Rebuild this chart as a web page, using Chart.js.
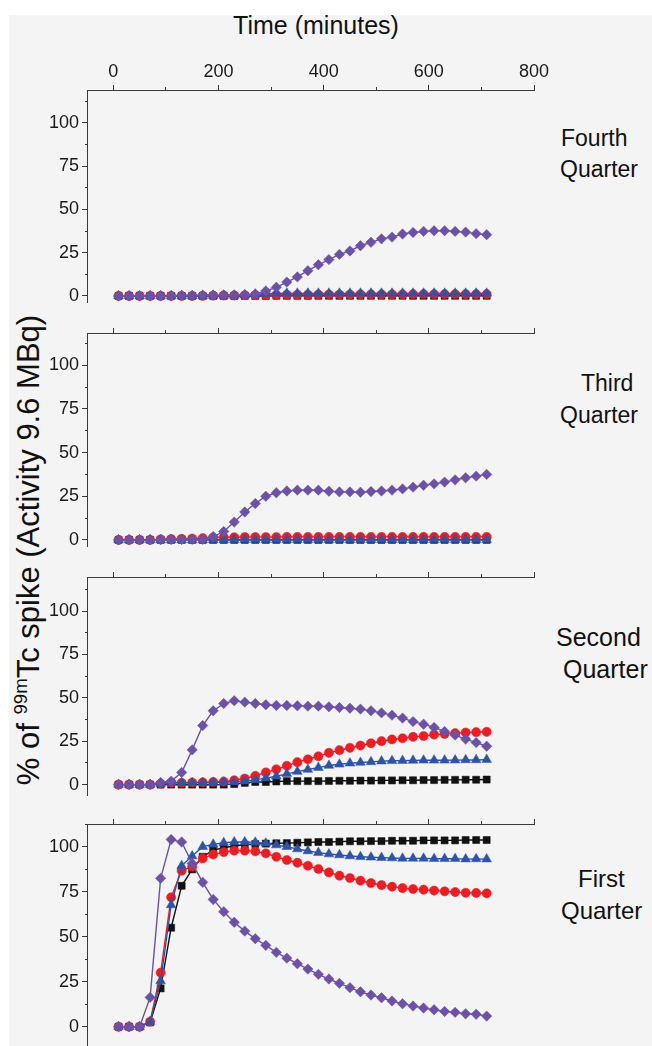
<!DOCTYPE html>
<html><head><meta charset="utf-8">
<script src="https://cdn.jsdelivr.net/npm/chart.js@4.4.1/dist/chart.umd.min.js"></script>
<style>
html,body{margin:0;padding:0;background:#fff;width:652px;height:1046px;overflow:hidden;position:relative;}
#bg{position:absolute;left:9px;top:15px;width:643px;height:1031px;background:#f4f4f4;}
canvas{position:absolute;left:0;}
.t{position:absolute;font-family:"Liberation Sans",Arial,sans-serif;color:#111;white-space:nowrap;line-height:1;}
.pl{font-size:23px;}
#ylab{font-size:31px;left:28px;top:550px;transform:translate(-50%,-50%) rotate(-90deg);}
#ylab sup{font-size:0.6em;vertical-align:baseline;position:relative;top:-0.62em;}
</style></head><body>
<div id="bg"></div>
<div class="t" id="title" style="font-size:25px;left:316px;top:13px;transform:translateX(-50%);">Time (minutes)</div>
<div class="t" id="ylab">% of <sup>99m</sup>Tc spike (Activity 9.6 MBq)</div>
<div class="t pl" style="left:561px;top:127px;">Fourth</div>
<div class="t pl" style="left:560px;top:158px;">Quarter</div>
<div class="t pl" style="left:581px;top:372px;">Third</div>
<div class="t pl" style="left:560px;top:404px;">Quarter</div>
<div class="t pl" style="left:556px;top:625px;font-size:25px;">Second</div>
<div class="t pl" style="left:563px;top:657px;font-size:25px;">Quarter</div>
<div class="t pl" style="left:578px;top:867px;font-size:24px;">First</div>
<div class="t pl" style="left:561px;top:899px;font-size:24px;">Quarter</div>
<canvas id="c1"></canvas><canvas id="c2"></canvas><canvas id="c3"></canvas><canvas id="c4"></canvas>
<script>
// ---- data ----
const time = [10,30,50,70,90,110,130,150,170,190,210,230,250,270,290,310,330,350,370,390,410,430,450,470,490,510,530,550,570,590,610,630,650,670,690,710];
const xTickLabels = ['0','200','400','600','800'];
const yTickLabels = ['0','25','50','75','100'];
const panelNames = ['Fourth Quarter','Third Quarter','Second Quarter','First Quarter'];

// Fourth Quarter (top panel)
const q4Diamond  = [0,0,0,0,0,0,0.3,0.3,0.5,0.5,0.5,0.5,0.7,1,2.9,5,8,11,14.6,18,21,24,26,29,31,33,34,35.8,36.7,37.3,37.7,37.7,37.3,36.9,36,35.4];
const q4Triangle = [0,0,0,0,0,0,0,0,0,0.2,0.3,0.3,0.5,1,1.3,1.4,1.5,1.5,1.5,1.5,1.5,1.5,1.5,1.5,1.5,1.5,1.5,1.5,1.5,1.5,1.5,1.5,1.5,1.5,1.5,1.5];
const q4Circle   = [0,0,0,0,0,0,0,0,0,0.2,0.3,0.3,0.4,0.5,0.6,0.6,0.7,0.7,0.7,0.8,0.8,0.8,0.8,0.9,0.9,0.9,0.9,0.9,1,1,1,1,1,1,1,1];
const q4Square   = [0,0,0,0,0,0,0,0,0,0,0,0,0,0,0,0.1,0.1,0.1,0.1,0.1,0.1,0.1,0.1,0.1,0.1,0.1,0.1,0.1,0.1,0.1,0.1,0.1,0.1,0.1,0.1,0.1];
// Third Quarter
const q3Diamond  = [0,0,0,0,0.2,0.2,0.2,0.3,0.3,1.9,4.8,10.2,16,20.8,25,27,28,28.5,28.5,28.5,27.9,27.5,27.5,27.3,27.7,28,28.5,29.2,30.2,31.3,32.1,33.1,34.4,35.6,36.5,37.5];
const q3Triangle = [0,0,0,0,0,0,0,0,0,0,0,0.1,0.1,0.1,0.1,0.1,0.1,0.1,0.1,0.1,0.1,0.1,0.1,0.1,0.1,0.1,0.1,0.1,0.1,0.1,0.1,0.1,0.1,0.1,0.1,0.1];
const q3Circle   = [0,0,0,0,0.3,0.5,0.6,0.8,1,1.3,1.5,1.5,1.6,1.6,1.6,1.6,1.7,1.7,1.7,1.7,1.7,1.7,1.7,1.7,1.7,1.7,1.7,1.7,1.7,1.7,1.7,1.7,1.7,1.7,1.7,1.7];
const q3Square   = [0,0,0,0,0,0,0,0,0,0,0,0,0,0,0,0,0,0,0,0,0,0,0,0,0,0,0,0,0,0,0,0,0,0,0,0];
// Second Quarter
const q2Diamond  = [0,0,0,0,1.2,2,7,20,34,42.5,46.7,48.3,47.5,46.7,46,45.6,45.6,45.4,45.2,45.2,44.8,44.4,44,43.5,42.5,41.3,40,38.3,36.3,34.8,32.9,30.6,28.5,26.2,24.2,22.1];
const q2Triangle = [0,0,0,0,0.5,1.2,1,1,1,1.2,1.5,1.5,2,2.7,3.7,4.8,6.2,7.5,8.7,9.8,11,11.7,12.3,12.7,13.1,13.5,13.7,13.8,13.9,14,14,14,14.1,14.2,14.2,14.4];
const q2Circle   = [0,0,0,0,0.5,1,1,1.2,1.3,1.5,1.7,2.5,3.5,5,7,8.8,10.8,12.9,14.6,16.3,18.3,19.8,21.2,22.5,23.8,25,26,26.7,27.5,28,28.8,29.2,29.6,30,30.2,30.4];
const q2Square   = [0,0,0,0,0,0,0,0,0,0,0,0.3,1,1.5,1.5,1.8,2,2,2,2,2.1,2.2,2.2,2.3,2.3,2.4,2.4,2.5,2.5,2.6,2.6,2.7,2.7,2.8,2.8,2.9];
// First Quarter (bottom panel)
const q1Diamond  = [0,0,0,16.3,82.4,104,102.6,90.7,80.2,70.7,63.9,58,53.1,48.9,45.2,41.3,38.1,35,32,29.1,26.5,24.1,21.7,19.4,17.6,16.1,14.3,12.8,11.5,10.4,9.4,8.5,8,7.2,6.9,5.9];
const q1Triangle = [0,0,0,2.8,25.4,67.6,89.4,94.8,100,101.3,102.2,102.6,102.6,102.4,101.9,100.9,100,98.7,97.6,96.7,95.9,95.4,94.8,94.4,94.1,93.9,93.7,93.5,93.5,93.5,93.3,93.3,93.3,93.1,93.2,93.1];
const q1Circle   = [0,0,0,2.8,30,71.9,86.7,88.9,93.5,95.7,97,97.8,97.8,97.4,96.3,94.4,92.6,91.1,89.4,87.6,85.7,83.9,82.6,81.1,79.8,78.7,77.8,77,76.5,76.1,75.6,75.2,74.8,74.4,74.3,74.1];
const q1Square   = [0,0,0,2.4,21.3,55,78.3,87.4,94.4,98.1,99.4,100.4,101.1,101.5,101.7,101.9,102,102.2,102.4,102.6,102.6,102.8,103,103,103.1,103.1,103.3,103.3,103.3,103.5,103.5,103.5,103.5,103.7,103.7,103.7];

// ---- styling / layout ----
const FONT = '"Liberation Sans", Arial, sans-serif';
const AX = '#3a3a3a';
const styles = {
  diamond:  {color:'#6b52a6', pointStyle:'rectRot',  r:5.2},
  triangle: {color:'#2f54a6', pointStyle:'triangle', r:5.6},
  circle:   {color:'#ec1c24', pointStyle:'circle',   r:4.6},
  square:   {color:'#111111', pointStyle:'rect',     r:5.0}
};
const panels = [
  {id:'c1', top:90,  bottom:302, min:-3.5, max:119,   xH:90, labels:true,  s:[q4Diamond,q4Triangle,q4Circle,q4Square]},
  {id:'c2', top:333, bottom:546, min:-3.5, max:118.5, xH:20, labels:false, s:[q3Diamond,q3Triangle,q3Circle,q3Square]},
  {id:'c3', top:577, bottom:795, min:-6,   max:119.6, xH:20, labels:false, s:[q2Diamond,q2Triangle,q2Circle,q2Square]},
  {id:'c4', top:824, bottom:1046,min:-10.7,max:112.6, xH:20, labels:false, s:[q1Diamond,q1Triangle,q1Circle,q1Square]}
];
const keys = ['diamond','triangle','circle','square'];
const PADB = 20;

panels.forEach((p, pi) => {
  const cv = document.getElementById(p.id);
  const h = p.xH + (p.bottom - p.top) + PADB;
  cv.width = 652; cv.height = h;
  cv.style.top = (p.top - p.xH) + 'px';
  cv.style.width = '652px'; cv.style.height = h + 'px';
  const datasets = p.s.map((arr, k) => {
    const st = styles[keys[k]];
    return {
      label: panelNames[pi] + ' ' + keys[k],
      data: time.map((t, i) => ({x: t, y: arr[i]})),
      borderColor: st.color, backgroundColor: st.color,
      pointBackgroundColor: st.color, pointBorderColor: st.color,
      pointStyle: st.pointStyle, pointRadius: st.r, pointBorderWidth: 0.5,
      borderWidth: 1.4, tension: 0, clip: false, order: k
    };
  });
  new Chart(cv, {
    type: 'line',
    data: {datasets},
    options: {
      responsive: false, animation: false, devicePixelRatio: 1,
      layout: {padding: {left: 0, right: 118, top: 0, bottom: PADB}},
      plugins: {legend: {display: false}, tooltip: {enabled: false}},
      scales: {
        x: {
          type: 'linear', position: 'top', min: -50, max: 800,
          afterFit: (s) => { s.height = p.xH; },
          border: {display: true, color: AX, width: 1},
          grid: {drawOnChartArea: false, drawTicks: true, tickLength: 5, color: AX, tickColor: AX,
                 tickBorderDash: (c) => (c.tick && c.tick.value % 200 === 0) ? [] : [3, 2],
                 tickBorderDashOffset: (c) => (c.tick && c.tick.value % 200 === 0) ? 0 : 3},
          ticks: {
            stepSize: 100, includeBounds: false, autoSkip: false, maxRotation: 0, minRotation: 0, padding: 2,
            color: '#1a1a1a', font: {family: FONT, size: 18},
            callback: (v) => {
              if (!p.labels) return '';
              const s = String(v);
              return xTickLabels.includes(s) ? s : '';
            }
          }
        },
        y: {
          type: 'linear', position: 'left', min: p.min, max: p.max,
          afterFit: (s) => { s.width = 87; },
          border: {display: true, color: AX, width: 1},
          grid: {drawOnChartArea: false, drawTicks: true, tickLength: 5, color: AX, tickColor: AX,
                 tickBorderDash: (c) => (c.tick && c.tick.value % 25 === 0) ? [] : [2, 3],
                 tickBorderDashOffset: (c) => (c.tick && c.tick.value % 25 === 0) ? 0 : 2},
          ticks: {
            stepSize: 12.5, includeBounds: false, autoSkip: false, padding: 3,
            color: '#1a1a1a', font: {family: FONT, size: 18},
            callback: (v) => { const s = String(v); return yTickLabels.includes(s) ? s : ''; }
          }
        }
      }
    }
  });
});
</script>
</body></html>
